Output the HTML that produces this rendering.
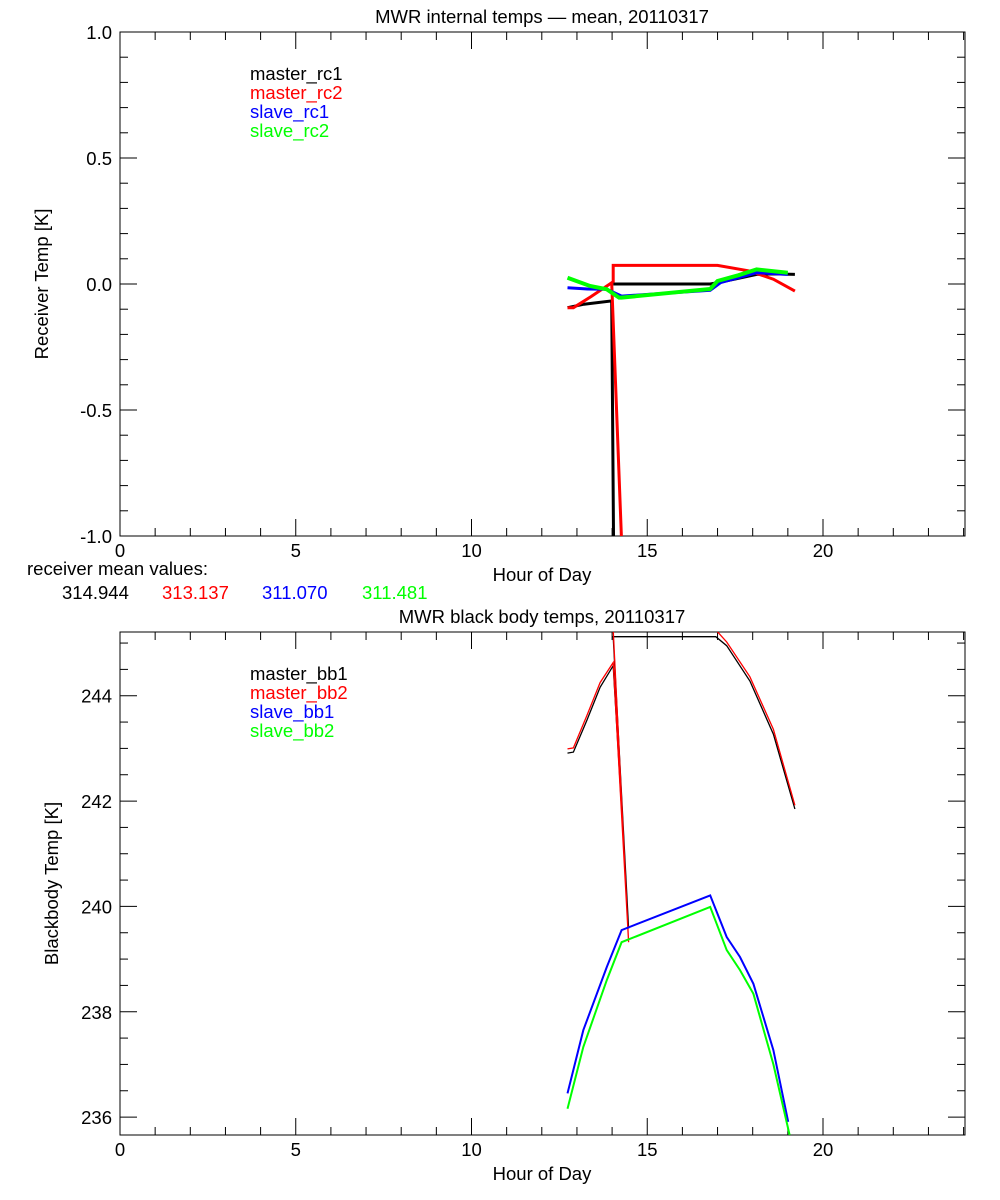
<!DOCTYPE html>
<html><head><meta charset="utf-8"><style>
body{margin:0;background:#fff;}
svg{display:block;font-family:"Liberation Sans",sans-serif;}
text{font-size:18.5px;}
</style></head><body>
<svg id="chart" width="1000" height="1200" viewBox="0 0 1000 1200" xmlns="http://www.w3.org/2000/svg">
<defs>
<clipPath id="c1"><rect x="120" y="32" width="845" height="504"/></clipPath>
<clipPath id="c2"><rect x="120" y="632" width="845" height="503"/></clipPath>
</defs>
<g id="top"></g>
<g id="bot"></g>
<text x="27" y="575">receiver mean values:</text>
<text x="62" y="599" fill="#000">314.944</text>
<text x="162" y="599" fill="#f00">313.137</text>
<text x="262" y="599" fill="#00f">311.070</text>
<text x="362" y="599" fill="#0f0">311.481</text>
</svg>
<script>
// ---- top chart data (hour, value); null = break ----
const rcHoursMaster1=[12.73,13.2,13.99,14.05,null,14.03,16.79,17.0,17.5,18.11,18.6,19.2];
const rcMaster1=[-0.094,-0.08,-0.067,-1.2,null,0.0,0.0,0.005,0.02,0.038,0.04,0.038];
const rcHoursMaster2=[12.73,12.9,13.4,13.99,14.32,null,14.03,14.03,16.95,17.0,17.9,18.59,19.2];
const rcMaster2=[-0.094,-0.094,-0.05,0.005,-1.2,null,0.005,0.074,0.074,0.074,0.052,0.019,-0.028];
const rcHoursSlave1=[12.73,13.3,13.85,14.27,16.79,17.09,17.6,18.11,19.0];
const rcSlave1=[-0.015,-0.02,-0.021,-0.048,-0.025,0.006,0.025,0.045,0.038];
const rcHoursSlave2=[12.73,13.37,13.85,14.2,14.27,16.79,17.0,17.6,18.11,19.0];
const rcSlave2=[0.025,-0.008,-0.021,-0.054,-0.054,-0.02,0.012,0.035,0.058,0.045];
// ---- bottom chart data ----
const bbHoursMaster1=[12.73,12.9,13.28,13.66,14.03,14.47,14.03,16.95,17.26,17.92,18.59,19.2];
const bbMaster1=[242.91,242.93,243.53,244.16,244.57,239.58,245.12,245.12,244.95,244.28,243.27,241.85];
const bbHoursMaster2=[12.73,12.9,13.28,13.66,14.03,14.47,14.03,16.95,17.26,17.92,18.59,19.2];
const bbMaster2=[242.99,243.01,243.62,244.25,244.63,239.32,245.25,245.25,245.02,244.36,243.36,241.92];
const bbHoursSlave1=[12.73,13.18,13.85,14.27,16.79,17.26,17.64,18.02,18.59,19.01];
const bbSlave1=[236.45,237.65,238.85,239.55,240.21,239.42,239.04,238.53,237.27,235.91];
const bbHoursSlave2=[12.73,13.18,13.85,14.27,16.79,17.26,17.64,18.02,18.59,19.05];
const bbSlave2=[236.16,237.33,238.6,239.32,239.99,239.17,238.79,238.34,237.0,235.66];

const NS="http://www.w3.org/2000/svg";
function mk(tag,attrs,parent){const e=document.createElementNS(NS,tag);for(const k in attrs)e.setAttribute(k,attrs[k]);parent.appendChild(e);return e;}
const X0=120,X1=965;
function xs(h){return X0+h*(X1-X0)/24.04;}

function panel(g,y0,y1,vmin,vmax,major,minor,fmt,title,ytitle,legend,series,clip){
  const ys=v=>y1-(v-vmin)/(vmax-vmin)*(y1-y0);
  const box=mk('rect',{x:X0,y:y0,width:X1-X0,height:y1-y0,fill:'none',stroke:'#000','stroke-width':1},g);
  
  
  for(let h=0;h<=24;h++){
    const L=(h%5===0)?17:8,x=xs(h);
    mk('line',{x1:x,x2:x,y1:y1,y2:y1-L,stroke:'#000'},g);
    mk('line',{x1:x,x2:x,y1:y0,y2:y0+L,stroke:'#000'},g);
    if(h%5===0){const t=mk('text',{x:x,y:y1+21,'text-anchor':'middle'},g);t.textContent=h;
      
      }
  }
  const xt=mk('text',{x:542,y:y1+45,'text-anchor':'middle'},g);xt.textContent='Hour of Day';
  
  
  const first=Math.ceil(vmin/minor-1e-6)*minor;
  for(let v=first;v<=vmax+1e-6;v+=minor){
    const isMaj=Math.abs(v/major-Math.round(v/major))<1e-6,L=isMaj?17:8,y=ys(v);
    mk('line',{x1:X0,x2:X0+L,y1:y,y2:y,stroke:'#000'},g);
    mk('line',{x1:X1,x2:X1-L,y1:y,y2:y,stroke:'#000'},g);
    if(isMaj){const t=mk('text',{x:X0-8,y:y+7,'text-anchor':'end'},g);t.textContent=fmt(v);
      
      }
  }
  const tt=mk('text',{x:542,y:y0-9,'text-anchor':'middle','font-size':'21'},g);tt.textContent=title;
  
  
  const yt=mk('text',{transform:`translate(${ytitle[1]},${(y0+y1)/2}) rotate(-90)`,'text-anchor':'middle'},g);yt.textContent=ytitle[0];
  
  
  legend.forEach((l,i)=>{const t=mk('text',{x:250,y:l[2],fill:l[1]},g);t.textContent=l[0];
    
    });
  const sg=mk('g',{'clip-path':`url(#${clip})`},g);
  series.forEach(s=>{
    let d='',pen=false;
    for(let i=0;i<s.h.length;i++){
      if(s.h[i]===null){pen=false;continue;}
      d+=(pen?'L':'M')+xs(s.h[i]).toFixed(1)+','+ys(s.v[i]).toFixed(1);pen=true;
    }
    const p=mk('path',{d:d,fill:'none',stroke:s.c,'stroke-width':s.w},sg);
    
    
  });
}
function fmt1(v){const r=Math.round(v*10)/10;return (Math.abs(r)<1e-9?0:r).toFixed(1);}
panel(document.getElementById('top'),32,536,-1,1,0.5,0.1,fmt1,
 'MWR internal temps \u2014 mean, 20110317',['Receiver Temp [K]',48],
 [['master_rc1','#000',80],['master_rc2','#f00',99],['slave_rc1','#00f',118],['slave_rc2','#0f0',137]],
 [{h:rcHoursMaster1,v:rcMaster1,c:'#000',w:3,name:'series-master-rc1'},
  {h:rcHoursMaster2,v:rcMaster2,c:'#f00',w:3,name:'series-master-rc2'},
  {h:rcHoursSlave1,v:rcSlave1,c:'#00f',w:3,name:'series-slave-rc1'},
  {h:rcHoursSlave2,v:rcSlave2,c:'#0f0',w:4,name:'series-slave-rc2'}],'c1');
panel(document.getElementById('bot'),632,1135,235.66,245.21,2,0.5,v=>Math.round(v),
 'MWR black body temps, 20110317',['Blackbody Temp [K]',58],
 [['master_bb1','#000',680],['master_bb2','#f00',699],['slave_bb1','#00f',718],['slave_bb2','#0f0',737]],
 [{h:bbHoursMaster1,v:bbMaster1,c:'#000',w:1.3,name:'series-master-bb1'},
  {h:bbHoursMaster2,v:bbMaster2,c:'#f00',w:1.3,name:'series-master-bb2'},
  {h:bbHoursSlave1,v:bbSlave1,c:'#00f',w:2,name:'series-slave-bb1'},
  {h:bbHoursSlave2,v:bbSlave2,c:'#0f0',w:2,name:'series-slave-bb2'}],'c2');
</script>
</body></html>
